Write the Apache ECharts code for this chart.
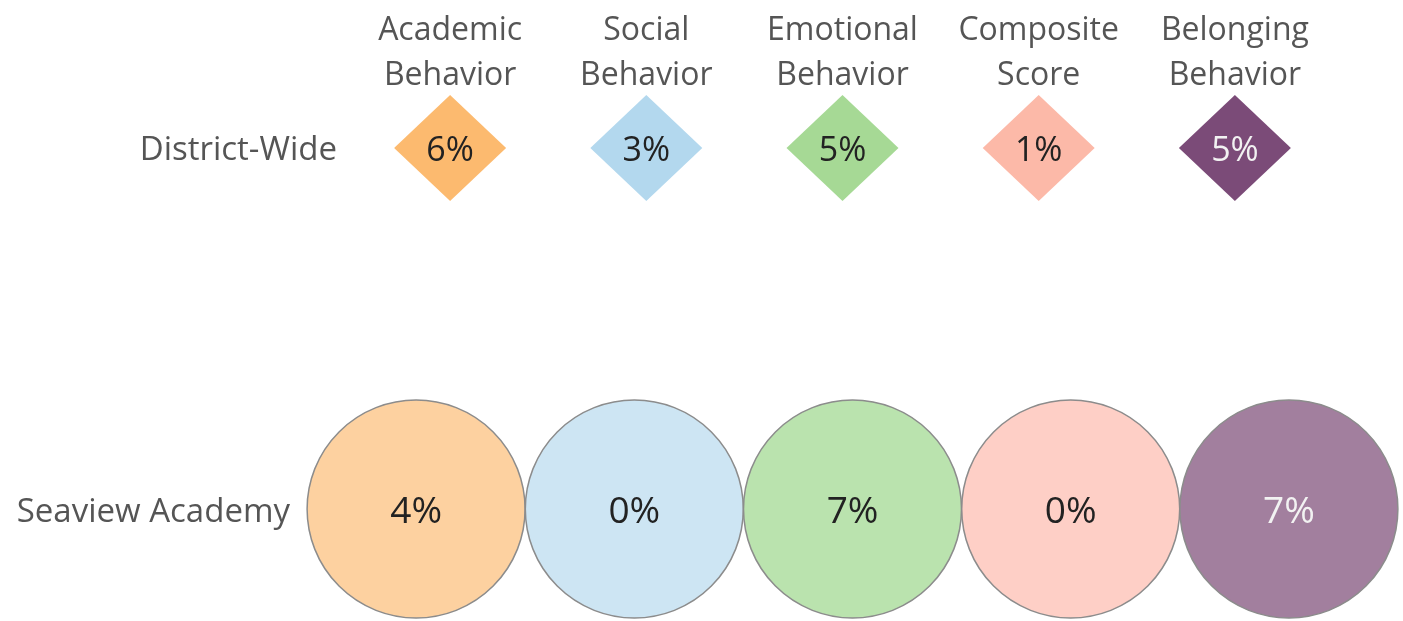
<!DOCTYPE html>
<html>
<head>
<meta charset="utf-8">
<script src="https://cdn.jsdelivr.net/npm/echarts@6/dist/echarts.min.js"></script>
<style>
  html, body { margin: 0; padding: 0; background: #fff; }
  #chart { width: 1403px; height: 621px; }
</style>
</head>
<body>
<div id="chart"></div>
<script>
const measures = ['Academic\nBehavior', 'Social\nBehavior', 'Emotional\nBehavior', 'Composite\nScore', 'Belonging\nBehavior']
const districtRow = ['District-Wide']
const schoolRow = ['Seaview Academy']
const districtValues = [6, 3, 5, 1, 5]
const schoolValues = [4, 0, 7, 0, 7]

const diamondColors = ['#fcba6f', '#b3d8ee', '#a6d995', '#fcb9a8', '#7b4b78']
const circleColors = ['#fdd1a0', '#cde5f3', '#bae3ae', '#fecfc6', '#a27f9e']
const labelColors = ['#222', '#222', '#222', '#222', '#f2f2f2']

const font = 'Open Sans'

const chart = echarts.init(document.getElementById('chart'))

const option = {
  animation: false,
  grid: [
    { left: 352, top: 95, width: 981, height: 106 },
    { left: 307, top: 400, width: 1091, height: 218 }
  ],
  xAxis: [
    {
      gridIndex: 0,
      type: 'category',
      position: 'top',
      data: measures,
      axisLine: { show: false },
      axisTick: { show: false },
      axisLabel: {
        interval: 0,
        margin: -3,
        fontFamily: font,
        fontSize: 32,
        lineHeight: 45,
        color: '#555'
      }
    },
    {
      gridIndex: 1,
      type: 'category',
      data: measures,
      axisLine: { show: false },
      axisTick: { show: false },
      axisLabel: { show: false }
    }
  ],
  yAxis: [
    {
      gridIndex: 0,
      type: 'category',
      data: districtRow,
      axisLine: { show: false },
      axisTick: { show: false },
      axisLabel: {
        margin: 15,
        fontFamily: font,
        fontSize: 33,
        color: '#555',
        formatter: (v) => '{r|' + v + '}',
        rich: { r: { fontFamily: font, fontSize: 33, color: '#555', padding: [5, 0, 0, 0] } }
      }
    },
    {
      gridIndex: 1,
      type: 'category',
      data: schoolRow,
      axisLine: { show: false },
      axisTick: { show: false },
      axisLabel: {
        margin: 17,
        fontFamily: font,
        fontSize: 33,
        color: '#555',
        formatter: (v) => '{r|' + v + '}',
        rich: { r: { fontFamily: font, fontSize: 33, color: '#555', padding: [8, 0, 0, 0] } }
      }
    }
  ],
  series: [
    {
      type: 'scatter',
      xAxisIndex: 0,
      yAxisIndex: 0,
      symbol: 'diamond',
      symbolSize: [112, 106],
      itemStyle: { opacity: 1 },
      data: districtValues.map((v, i) => ({
        value: [i, 0, v],
        itemStyle: { color: diamondColors[i], opacity: 1 },
        label: { color: labelColors[i] }
      })),
      label: {
        show: true,
        position: 'inside',
        fontFamily: font,
        fontSize: 34,
        offset: [0, 3],
        formatter: (p) => p.value[2] + '%'
      }
    },
    {
      type: 'scatter',
      xAxisIndex: 1,
      yAxisIndex: 1,
      symbol: 'circle',
      symbolSize: 218,
      itemStyle: { opacity: 1 },
      data: schoolValues.map((v, i) => ({
        value: [i, 0, v],
        itemStyle: { color: circleColors[i], borderColor: '#8c8c8c', borderWidth: 1.5, opacity: 1 },
        label: { color: labelColors[i] }
      })),
      label: {
        show: true,
        position: 'inside',
        fontFamily: font,
        fontSize: 37,
        offset: [0, 3],
        formatter: (p) => p.value[2] + '%'
      }
    }
  ]
}

chart.setOption(option)
window.addEventListener('resize', () => chart.resize())
</script>
</body>
</html>
